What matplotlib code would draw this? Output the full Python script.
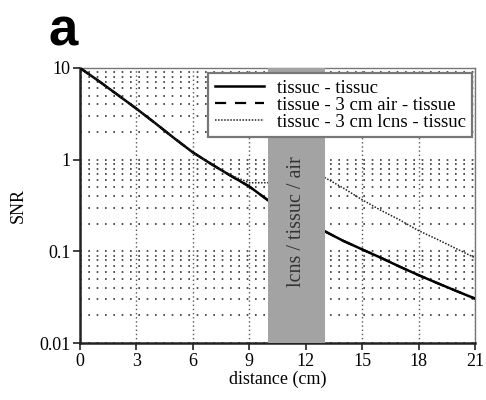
import numpy as np
import matplotlib
matplotlib.use("Agg")
import matplotlib.pyplot as plt
from matplotlib.ticker import FixedLocator, FixedFormatter, LogLocator, NullFormatter

# ---- data ----
x_before = [0, 1, 2, 3, 4, 5, 6, 7, 8, 9, 10]
tt_before = [10, 7.2, 5.1, 3.6, 2.5, 1.72, 1.2, 0.89, 0.67, 0.51, 0.36]
air_before = [10, 7.2, 5.1, 3.6, 2.5, 1.72, 1.2, 0.89, 0.67, 0.51, 0.36]
lens_before = [10, 7.2, 5.1, 3.6, 2.5, 1.72, 1.2, 0.89, 0.68, 0.56, 0.56]

x_after = [13, 14, 15, 16, 17, 18, 19, 20, 21]
tt_after = [0.166, 0.13, 0.105, 0.085, 0.068, 0.055, 0.045, 0.037, 0.0305]
air_after = [0.166, 0.13, 0.105, 0.085, 0.068, 0.055, 0.045, 0.037, 0.0305]
lens_after = [0.64, 0.49, 0.365, 0.28, 0.22, 0.168, 0.135, 0.107, 0.085]

span_range = (10, 13)
span_label = "lcns / tissuc / air"
legend_labels = ["tissuc - tissuc", "tissue - 3 cm air - tissue", "tissuc - 3 cm lcns - tissuc"]
xticks = [0, 3, 6, 9, 12, 15, 18, 21]
yticks = [0.01, 0.1, 1, 10]
ytick_labels = ["0.01", "0.1", "1", "10"]

serif = ["Liberation Serif", "DejaVu Serif"]

fig = plt.figure(figsize=(4.86, 4.0), dpi=100)
ax = fig.add_axes([80 / 486, 1 - 343 / 400, 395 / 486, 275 / 400])

ax.set_yscale("log")
ax.set_xlim(0, 21)
ax.set_ylim(0.01, 10)

# grid
ax.yaxis.set_minor_locator(LogLocator(base=10, subs=np.arange(2, 10)))
ax.yaxis.set_minor_formatter(NullFormatter())
ax.grid(True, axis="y", which="both", linestyle=(0, (1, 4)), color="#333333", lw=1.2, zorder=0)
ax.grid(True, axis="x", which="major", linestyle=(0, (1, 2)), color="#555555", lw=1.0, zorder=0)

# curves
h1, = ax.plot(x_before, tt_before, color="black", lw=1.8, zorder=3)
ax.plot(x_after, tt_after, color="black", lw=1.8, zorder=3)
h2, = ax.plot(x_before, air_before, color="black", lw=1.6, linestyle=(0, (5, 4)), zorder=3)
ax.plot(x_after, air_after, color="black", lw=1.6, linestyle=(0, (5, 4)), zorder=3)
h3, = ax.plot(x_before, lens_before, color="#222222", lw=1.1, linestyle=(0, (1, 1)), zorder=3)
ax.plot(x_after, lens_after, color="#222222", lw=1.1, linestyle=(0, (1, 1)), zorder=3)

# shaded region
ax.axvspan(*span_range, color="#a3a3a3", zorder=4, lw=0)
ax.text(sum(span_range) / 2, 10 ** (1 - (222 - 68) / 92.0), span_label, rotation=90,
        ha="center", va="center", fontsize=14.5, family=serif, color="#333333", zorder=5)

# ticks
ax.xaxis.set_major_locator(FixedLocator(xticks))
ax.yaxis.set_major_locator(FixedLocator(yticks))
ax.yaxis.set_major_formatter(FixedFormatter(ytick_labels))
ax.tick_params(axis="both", which="major", direction="out", length=5, width=1.2,
               labelsize=13, pad=2, color="#222222")
ax.tick_params(axis="y", which="minor", length=0)
for lab in ax.get_xticklabels() + ax.get_yticklabels():
    lab.set_family(serif)

for s in ["left", "bottom"]:
    ax.spines[s].set_linewidth(1.8)
    ax.spines[s].set_color("#222222")
for s in ["top", "right"]:
    ax.spines[s].set_linewidth(1.0)
    ax.spines[s].set_color("#777777")

ax.set_xlabel("distance (cm)", fontsize=13, family=serif, labelpad=1)
ax.set_ylabel("SNR", fontsize=13, family=serif, labelpad=9)

leg = ax.legend([h1, h2, h3], legend_labels, loc="upper right", bbox_to_anchor=(0.993, 0.982),
                prop={"family": serif, "size": 13.5}, frameon=True, fancybox=False,
                edgecolor="#777777", framealpha=1, handlelength=2.6, handletextpad=0.7,
                labelspacing=0.0, borderpad=0.35, borderaxespad=0.0)
leg.get_frame().set_linewidth(1.6)
leg.set_zorder(6)

fig.text(48 / 486, 1 - 45 / 400, "a", fontsize=38, fontweight="bold",
         family=["Liberation Sans", "DejaVu Sans"], va="baseline", ha="left")

fig.savefig("out.png", dpi=100)
